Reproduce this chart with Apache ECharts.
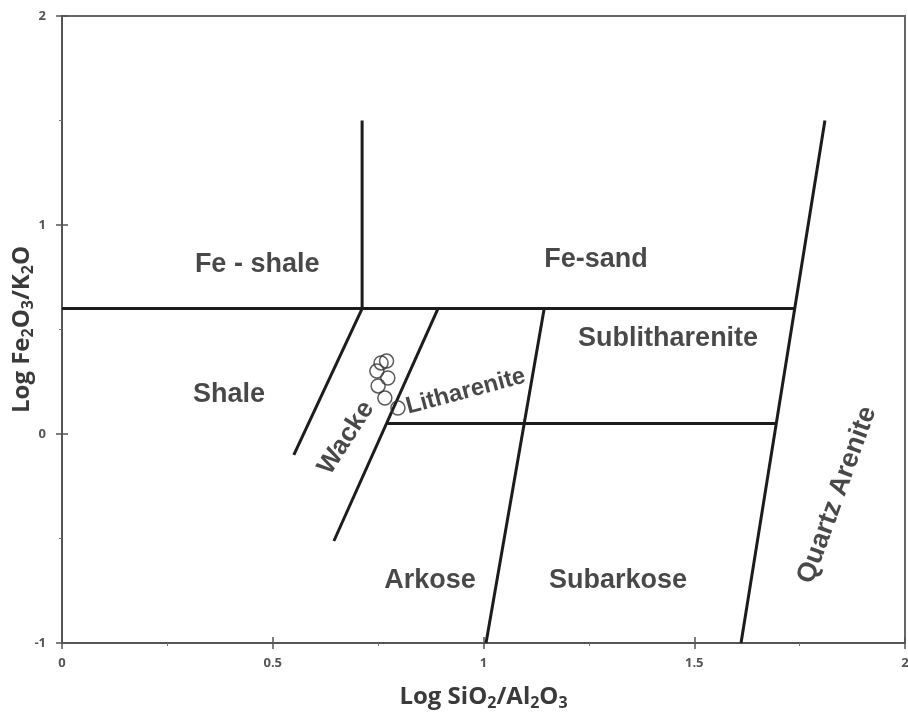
<!DOCTYPE html>
<html>
<head>
<meta charset="utf-8">
<script src="https://cdn.jsdelivr.net/npm/echarts@6/dist/echarts.min.js"></script>
<style>
html,body{margin:0;padding:0;background:#fff;}
#chart{width:908px;height:713px;}
</style>
</head>
<body>
<div id="chart"></div>
<script>
// Axis ticks
const xTicks = [0, 0.5, 1, 1.5, 2];
const yTicks = [-1, 0, 1, 2];

// Classification boundary lines (data units: [log SiO2/Al2O3, log Fe2O3/K2O])
const feDivide    = [[0.712, 1.5], [0.712, 0.6]];
const upperHoriz  = [[0, 0.6], [1.737, 0.6]];
const quartzLine  = [[1.810, 1.5], [1.611, -1]];
const shaleWacke  = [[0.712, 0.6], [0.550, -0.10]];
const wackeLith   = [[0.892, 0.6], [0.645, -0.512]];
const lithSublith = [[1.144, 0.6], [1.006, -1]];
const lowerHoriz  = [[0.772, 0.05], [1.695, 0.05]];

// Sample points
const samplesX = [0.770, 0.757, 0.747, 0.773, 0.750, 0.766, 0.797];
const samplesY = [0.349, 0.340, 0.301, 0.268, 0.230, 0.172, 0.124];

// Field names and their anchor locations (data units) and text angle
const fieldNames  = ['Fe - shale', 'Fe-sand', 'Sublitharenite', 'Shale', 'Wacke', 'Litharenite', 'Arkose', 'Subarkose', 'Quartz Arenite'];
const fieldX      = [0.463, 1.267, 1.438, 0.396, 0.674, 0.958, 0.873, 1.319, 1.839];
const fieldY      = [0.813, 0.833, 0.455, 0.191, -0.019, 0.203, -0.703, -0.703, -0.292];
const fieldAngle  = [0, 0, 0, 0, 57, 15, 0, 0, 70];
const fieldSize   = [27, 27, 27, 27, 26, 24, 27, 27, 27];

const boundaries = [feDivide, upperHoriz, quartzLine, shaleWacke, wackeLith, lithSublith, lowerHoriz];

const chart = echarts.init(document.getElementById('chart'), null, {renderer: 'canvas'});

const lineSeries = boundaries.map(pts => ({
  type: 'line',
  data: pts,
  symbol: 'none',
  silent: true,
  lineStyle: {color: '#1c1c1c', width: 3},
  z: 3
}));

const labelFont = '"Liberation Sans", Arial, sans-serif';
const axisFont = '"Open Sans", "Liberation Sans", sans-serif';
const titleRich = {
  b: {fontSize: 24, fontWeight: 'bold', color: '#3a3a3a', fontFamily: axisFont, lineHeight: 28},
  s: {fontSize: 16, fontWeight: 'bold', color: '#3a3a3a', fontFamily: axisFont, lineHeight: 16, verticalAlign: 'bottom'}
};

const option = {
  animation: false,
  backgroundColor: '#fff',
  grid: {left: 62, right: 3, top: 16, bottom: 70, show: true, borderColor: '#666', borderWidth: 2,
    containLabel: false, outerBoundsMode: 'none'},
  xAxis: [{
    type: 'value', min: 0, max: 2, interval: 0.5,
    axisLine: {show: true, onZero: false, lineStyle: {color: '#555', width: 2}},
    axisTick: {show: true, length: 6, lineStyle: {color: '#555', width: 1.5}},
    minorTick: {show: true, splitNumber: 2, length: 3, lineStyle: {color: '#777'}},
    splitLine: {show: false},
    axisLabel: {color: '#555', fontSize: 13, fontWeight: 'bold', fontFamily: axisFont, margin: 14,
      formatter: v => xTicks.includes(v) ? String(v) : ''},
    name: '{b|Log SiO}{s|2}{b|/Al}{s|2}{b|O}{s|3}',
    nameLocation: 'middle', nameGap: 40, nameMoveOverlap: false,
    nameTextStyle: {rich: titleRich}
  }, {
    type: 'value', min: 0, max: 2, interval: 0.5, position: 'bottom',
    axisLine: {show: false, onZero: false},
    axisTick: {show: true, inside: true, length: 6, lineStyle: {color: '#555', width: 1.5}},
    axisLabel: {show: false}, splitLine: {show: false}
  }],
  yAxis: [{
    type: 'value', min: -1, max: 2, interval: 1,
    axisLine: {show: true, onZero: false, lineStyle: {color: '#555', width: 2}},
    axisTick: {show: true, length: 6, lineStyle: {color: '#555', width: 1.5}},
    minorTick: {show: true, splitNumber: 2, length: 3, lineStyle: {color: '#777'}},
    splitLine: {show: false},
    axisLabel: {color: '#555', fontSize: 13, fontWeight: 'bold', fontFamily: axisFont, margin: 16,
      formatter: v => yTicks.includes(v) ? String(v) : ''},
    name: '{b|Log Fe}{s|2}{b|O}{s|3}{b|/K}{s|2}{b|O}',
    nameLocation: 'middle', nameGap: 26, nameRotate: 90, nameMoveOverlap: false,
    nameTextStyle: {rich: titleRich}
  }, {
    type: 'value', min: -1, max: 2, interval: 1, position: 'left',
    axisLine: {show: false, onZero: false},
    axisTick: {show: true, inside: true, length: 6, lineStyle: {color: '#555', width: 1.5}},
    axisLabel: {show: false}, splitLine: {show: false}
  }],
  series: [
    ...lineSeries,
    {
      type: 'scatter',
      data: samplesX.map((x, i) => [x, samplesY[i]]),
      symbol: 'circle',
      symbolSize: 14,
      itemStyle: {color: 'rgba(255,255,255,0)', borderColor: '#333', borderWidth: 1.5},
      z: 4
    },
    {
      type: 'scatter',
      silent: true,
      symbolSize: 0,
      itemStyle: {color: '#1a1a1a'},
      data: fieldNames.map((n, i) => ({
        value: [fieldX[i], fieldY[i]],
        name: n,
        label: {rotate: fieldAngle[i], fontSize: fieldSize[i]}
      })),
      label: {
        show: true, position: 'inside', formatter: p => p.name,
        color: '#1a1a1a', fontWeight: 'bold', fontFamily: labelFont,
        textBorderWidth: 0, textBorderColor: 'transparent',
        align: 'center', verticalAlign: 'middle'
      },
      z: 5
    }
  ]
};

chart.setOption(option);
</script>
</body>
</html>
